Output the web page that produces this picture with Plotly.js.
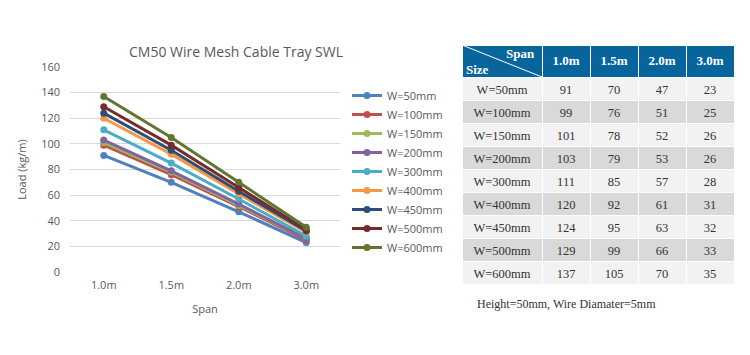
<!DOCTYPE html>
<html>
<head>
<meta charset="utf-8">
<script src="https://cdn.plot.ly/plotly-3.0.1.min.js"></script>
<style>html,body{margin:0;padding:0;background:#fff;}#chart{width:750px;height:355px;}</style>
</head>
<body>
<div id="chart"></div>
<script>
const spans = ["1.0m", "1.5m", "2.0m", "3.0m"];
const sizes = ["W=50mm", "W=100mm", "W=150mm", "W=200mm", "W=300mm", "W=400mm", "W=450mm", "W=500mm", "W=600mm"];
const w50  = [91, 70, 47, 23];
const w100 = [99, 76, 51, 25];
const w150 = [101, 78, 52, 26];
const w200 = [103, 79, 53, 26];
const w300 = [111, 85, 57, 28];
const w400 = [120, 92, 61, 31];
const w450 = [124, 95, 63, 32];
const w500 = [129, 99, 66, 33];
const w600 = [137, 105, 70, 35];
const colors = ["#4F81BD", "#C0504D", "#9BBB59", "#8064A2", "#4BACC6", "#F79646", "#2C4D75", "#772C2A", "#5F7530"];
const yTicks = [0, 20, 40, 60, 80, 100, 120, 140, 160];
const note = "Height=50mm, Wire Diamater=5mm";

const series = [w50, w100, w150, w200, w300, w400, w450, w500, w600];

const traces = series.map((vals, i) => ({
  type: "scatter",
  mode: "lines+markers",
  x: spans,
  y: vals,
  name: sizes[i],
  line: {color: colors[i], width: 3},
  marker: {color: colors[i], size: 7},
  xaxis: "x", yaxis: "y"
}));

// table
const W = 750, H = 355;
const tblLeft = 462, tblRight = 734, tblTop = 45, tblBottom = 300;
const serif = "Liberation Serif, Times New Roman, serif";
const rowFill = sizes.map((s, i) => i % 2 === 0 ? "#f2f2f2" : "#d9d9d9");
const cellValues = [sizes].concat(spans.map((s, j) => series.map(v => v[j])));
traces.push({
  type: "table",
  domain: {x: [tblLeft / W, tblRight / W], y: [1 - tblBottom / H, 1 - tblTop / H]},
  columnwidth: [80, 48, 48, 48, 48],
  header: {
    values: [""].concat(spans.map(s => "<b>" + s + "</b>")),
    height: 32,
    fill: {color: "#07659b"},
    line: {color: "#ffffff", width: 1},
    align: "center",
    font: {family: serif, size: 13, color: "#ffffff"}
  },
  cells: {
    values: cellValues,
    height: 23,
    fill: {color: cellValues.map(() => rowFill)},
    line: {color: "#ffffff", width: 1},
    align: "center",
    font: {family: serif, size: 12.5, color: "#333333"}
  }
});

const layout = {
  width: W, height: H,
  margin: {l: 0, r: 0, t: 0, b: 0},
  paper_bgcolor: "#ffffff",
  plot_bgcolor: "#ffffff",
  font: {family: "Open Sans, sans-serif", size: 11, color: "#595959"},
  title: {
    text: "CM50 Wire Mesh Cable Tray SWL",
    font: {family: "Open Sans, sans-serif", size: 14, color: "#595959"},
    x: 236 / W, xanchor: "center", xref: "container",
    y: 1 - 52 / H, yanchor: "middle", yref: "container"
  },
  showlegend: true,
  legend: {
    x: 347 / W, xanchor: "left",
    y: 1 - 81 / H, yanchor: "top",
    bgcolor: "rgba(0,0,0,0)",
    font: {size: 11, color: "#595959"},
    tracegroupgap: 0
  },
  xaxis: {
    domain: [70 / W, 340 / W],
    type: "category",
    range: [-0.5, 3.5],
    showgrid: false, zeroline: false, showline: false,
    ticks: "",
    ticklabelstandoff: 5,
    tickfont: {size: 11, color: "#595959"},
    title: {text: "Span", font: {size: 11, color: "#595959"}, standoff: 14}
  },
  yaxis: {
    domain: [1 - 272 / H, 1 - 67 / H],
    range: [0, 160],
    tickvals: yTicks,
    showgrid: true, gridcolor: "#d9d9d9", gridwidth: 1,
    zeroline: false, showline: false, ticks: "",
    ticklabelstandoff: 9,
    tickfont: {size: 11, color: "#595959"},
    title: {text: "Load (kg/m)", font: {size: 11, color: "#595959"}, standoff: 12}
  },
  shapes: [{
    type: "line", xref: "paper", yref: "paper",
    x0: tblLeft / W, y0: 1 - tblTop / H,
    x1: 542 / W, y1: 1 - 77 / H,
    line: {color: "#ffffff", width: 1}
  }],
  annotations: [
    {text: "<b>Span</b>", xref: "paper", yref: "paper", x: 537 / W, y: 1 - 53 / H,
     xanchor: "right", yanchor: "middle", showarrow: false,
     font: {family: serif, size: 13, color: "#ffffff"}},
    {text: "<b>Size</b>", xref: "paper", yref: "paper", x: 464 / W, y: 1 - 70 / H,
     xanchor: "left", yanchor: "middle", showarrow: false,
     font: {family: serif, size: 13, color: "#ffffff"}},
    {text: note, xref: "paper", yref: "paper", x: 475 / W, y: 1 - 304 / H,
     xanchor: "left", yanchor: "middle", showarrow: false,
     font: {family: serif, size: 12, color: "#333333"}}
  ]
};

Plotly.newPlot("chart", traces, layout, {displayModeBar: false, staticPlot: true});
</script>
</body>
</html>
